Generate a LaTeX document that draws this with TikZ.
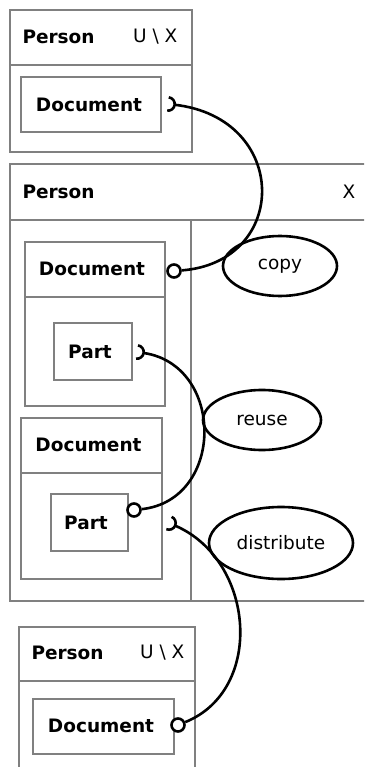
\documentclass[tikz,border=0pt]{standalone}
\usepackage{fontspec}
\setmainfont{DejaVu Sans}
\usetikzlibrary{arrows.meta,shapes.geometric}
\definecolor{framegray}{RGB}{128,128,128}
\begin{document}
\begin{tikzpicture}[x=1pt,y=-1pt,
  frame/.style={draw=framegray, line width=2.9pt, inner sep=0pt, rectangle},
  rule/.style={draw=framegray, line width=2.9pt},
  title/.style={font=\bfseries\fontsize{18.5}{22}\selectfont, inner sep=0pt},
  plain/.style={font=\fontsize{18.5}{22}\selectfont, inner sep=0pt},
  usecase/.style={draw, line width=2.6pt, ellipse, inner sep=0pt,
    font=\fontsize{18.5}{22}\selectfont},
  ball/.style={circle, draw, fill=white, line width=2.6pt, minimum size=13pt, inner sep=0pt},
  wire/.style={draw, line width=2.6pt},
  socket/.style={{Arc Barb[reversed,length=8pt,width=16pt]}-},
]
\useasboundingbox (0,0) rectangle (364,767);
\clip (0,0) rectangle (364,767);

% ---- first person, owning a document
\node[frame, minimum width=182pt, minimum height=142pt] (p1) at (101,81) {};
\draw[rule] (10,65) -- (192,65);
\node[title, anchor=west] (p1n) at (22.3,37) {Person};
\node[plain, anchor=east] (p1s) at (177.5,37) {U \textbackslash{} X};
\node[frame, minimum width=140pt, minimum height=55pt] (d1) at (91,104.5) {};
\node[title] (d1n) at (89,104.5) {Document};

% ---- central person X
\node[frame, minimum width=362pt, minimum height=437pt] (p2) at (191,382.5) {};
\draw[rule] (10,220) -- (372,220);
\draw[rule] (191,220) -- (191,601);
\node[title, anchor=west] (p2n) at (22.3,192) {Person};
\node[plain] (p2s) at (349,192) {X};

% copied document with a reused part
\node[frame, minimum width=140pt, minimum height=164pt] (d2) at (95,324) {};
\draw[rule] (25,297) -- (165,297);
\node[title] (d2n) at (92,269) {Document};
\node[frame, minimum width=78pt, minimum height=57pt] (q1) at (93,351.5) {};
\node[title] (q1n) at (90,352) {Part};

% new document built from the part
\node[frame, minimum width=141pt, minimum height=161pt] (d3) at (91.5,498.5) {};
\draw[rule] (21,473) -- (162,473);
\node[title] (d3n) at (88.5,445) {Document};
\node[frame, minimum width=77pt, minimum height=57pt] (q2) at (89.5,522.5) {};
\node[title] (q2n) at (86,523) {Part};

% ---- receiving person
\node[frame, minimum width=176pt, minimum height=153pt] (p3) at (107,703.5) {};
\draw[rule] (19,681) -- (195,681);
\node[title, anchor=west] (p3n) at (31.3,653) {Person};
\node[plain, anchor=east] (p3s) at (184.5,653) {U \textbackslash{} X};
\node[frame, minimum width=141pt, minimum height=55pt] (d4) at (103.5,726.5) {};
\node[title] (d4n) at (101,726) {Document};

% ---- use cases
\node[usecase, minimum width=114pt, minimum height=60pt] (copy) at (280,266) {copy};
\node[usecase, minimum width=118pt, minimum height=60pt] (reuse) at (262,420) {reuse};
\node[usecase, minimum width=144pt, minimum height=72pt] (dist) at (281,543) {distribute};

% ---- provided (ball) and required (socket) ends
\node[ball] (b1) at (174,271) {};
\node[ball] (b2) at (134,510) {};
\node[ball] (b3) at (178,725) {};
\coordinate (s1) at (168,104);
\coordinate (s2) at (137,352);
\coordinate (s3) at (169,523);

\draw[wire, socket] (s1) .. controls (290,118) and (290,262) .. (b1);
\draw[wire, socket] (s2) .. controls (225,365) and (225,500) .. (b2);
\draw[wire, socket] (s3) .. controls (255,560) and (265,690) .. (b3);
\end{tikzpicture}
\end{document}
